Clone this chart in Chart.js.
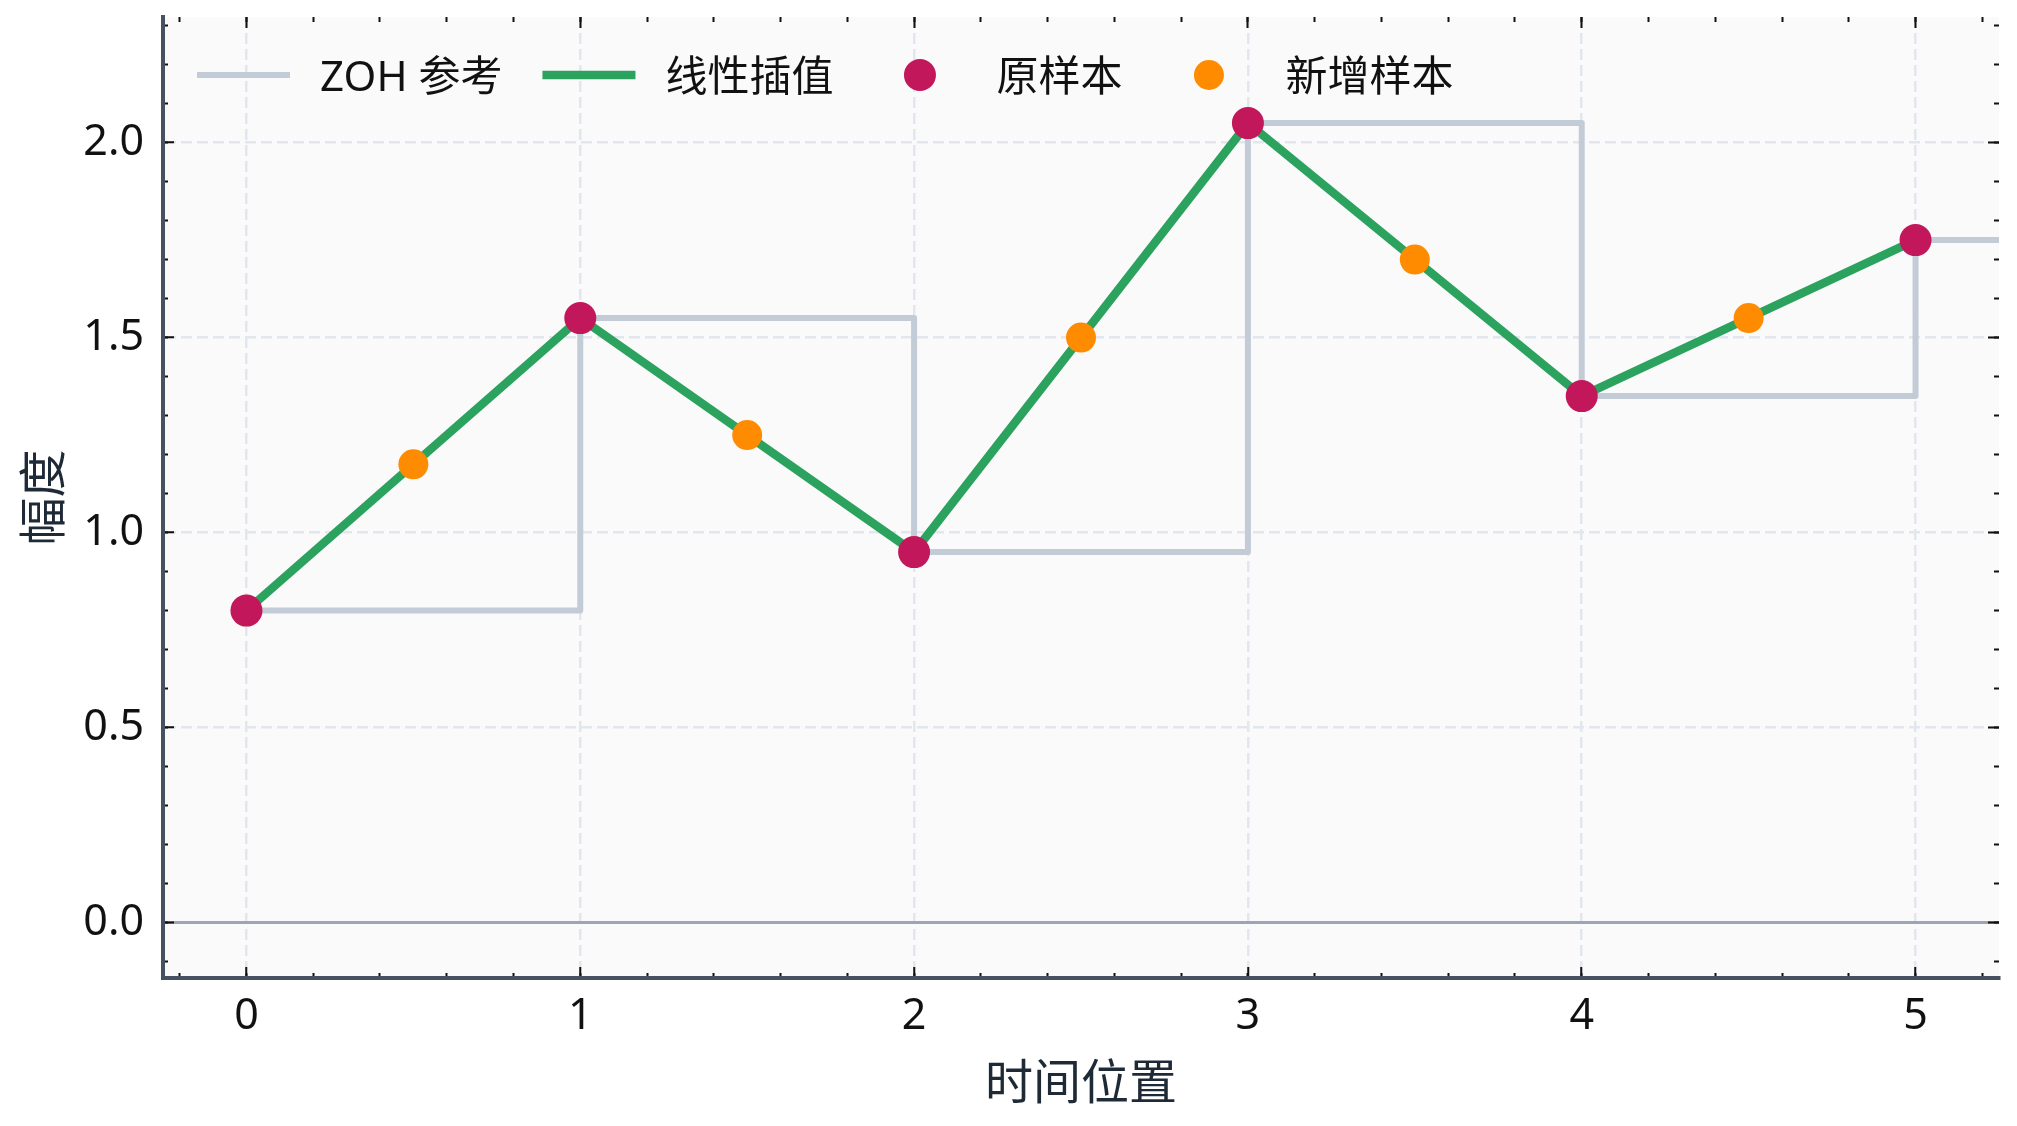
<!DOCTYPE html>
<html lang="zh">
<head>
<meta charset="utf-8">
<title>ZOH 参考与线性插值</title>
<script src="https://cdn.jsdelivr.net/npm/chart.js@4.4.1/dist/chart.umd.min.js"></script>
<style>
  html, body { margin: 0; padding: 0; background: #fff; }
  canvas { display: block; }
</style>
</head>
<body>
<canvas id="main-chart" width="2017" height="1126"></canvas>
<script>
// ── Data ──────────────────────────────────────────────────────────
const origX = [0, 1, 2, 3, 4, 5];
const origY = [0.8, 1.55, 0.95, 2.05, 1.35, 1.75];
const newX  = [0.5, 1.5, 2.5, 3.5, 4.5];
const newY  = [1.175, 1.25, 1.5, 1.7, 1.55];
const zohHoldX = 6;           // last sample held on past the right edge

const seriesLabels = ['ZOH 参考', '线性插值', '原样本', '新增样本'];
const xTitle = '时间位置';
const yTitle = '幅度';

const xRange = [-0.25, 5.25];
const yRange = [-0.142, 2.322];
const xMajor = 1,   xMinor = 0.2;
const yMajor = 0.5, yMinor = 0.1;

// ── Styling ───────────────────────────────────────────────────────
const FONT = '"Noto Sans", "Noto Sans CJK SC", sans-serif';
const clr = {
  zoh:    '#c3cbd7',
  lin:    '#2ca25f',
  orig:   '#c2185b',
  added:  '#ff8c00',
  plotBg: '#fafafa',
  grid:   '#e2e6ee',
  zero:   '#9ba5b4',
  spine:  '#465161',
  tick:   '#111',
  text:   '#111',
  title:  '#1f2a37',
};

const pts = (xs, ys) => xs.map((x, i) => ({ x, y: ys[i] }));

// plot area background
const plotBg = {
  id: 'plotBg',
  beforeDraw(chart) {
    const { ctx, chartArea: a } = chart;
    ctx.save();
    ctx.fillStyle = clr.plotBg;
    ctx.fillRect(a.left, a.top, a.right - a.left, a.bottom - a.top);
    ctx.restore();
  },
};

// legend drawn inside the plot, top-left, no frame
const innerLegend = {
  id: 'innerLegend',
  afterDraw(chart) {
    const { ctx, chartArea } = chart;
    const sample = 93, gapText = 30, gapItem = 40;
    let x = chartArea.left + 34;
    const y = chartArea.top + 58;
    ctx.save();
    ctx.font = '42px ' + FONT;
    ctx.textBaseline = 'middle';
    ctx.textAlign = 'left';
    chart.data.datasets.forEach(ds => {
      if (ds.showLine) {
        ctx.strokeStyle = ds.borderColor;
        ctx.lineWidth = ds.borderWidth;
        ctx.beginPath();
        ctx.moveTo(x, y);
        ctx.lineTo(x + sample, y);
        ctx.stroke();
      } else {
        ctx.fillStyle = ds.backgroundColor;
        ctx.beginPath();
        ctx.arc(x + sample / 2, y, ds.pointRadius, 0, Math.PI * 2);
        ctx.fill();
      }
      ctx.fillStyle = clr.text;
      ctx.fillText(ds.label, x + sample + gapText, y + 4);
      x += sample + gapText + ctx.measureText(ds.label).width + gapItem;
    });
    ctx.restore();
  },
};

// no label overhang padding: the plot box is fixed by layout padding
function noOverhang(s) {
  s.paddingTop = 0; s.paddingBottom = 0;
  s.paddingLeft = 0; s.paddingRight = 0;
}

// tick-only axes (minor ticks + mirrored ticks on top/right), zero size
function tickAxis(axis, position, step, len) {
  const isX = axis === 'x';
  return {
    type: 'linear', axis, position, weight: 0,
    min: isX ? xRange[0] : yRange[0],
    max: isX ? xRange[1] : yRange[1],
    ticks: { display: false, stepSize: step, includeBounds: false },
    grid: { drawOnChartArea: false, drawTicks: true, tickLength: -len, tickColor: clr.tick, tickWidth: 2 },
    border: { display: false },
    afterFit: s => { if (isX) s.height = 0; else s.width = 0; noOverhang(s); },
  };
}

const isZero = ctx => ctx.tick && Math.abs(ctx.tick.value) < 1e-9;

new Chart(document.getElementById('main-chart'), {
  type: 'scatter',
  data: {
    datasets: [
      {
        label: seriesLabels[0],
        data: pts(origX.concat([zohHoldX]), origY.concat([origY[origY.length - 1]])),
        showLine: true,
        stepped: 'before',
        borderColor: clr.zoh,
        borderWidth: 6,
        borderJoinStyle: 'round',
        pointRadius: 0,
        order: 4,
      },
      {
        label: seriesLabels[1],
        data: pts(origX, origY),
        showLine: true,
        borderColor: clr.lin,
        borderWidth: 8.5,
        pointRadius: 0,
        tension: 0,
        order: 3,
      },
      {
        label: seriesLabels[2],
        data: pts(origX, origY),
        showLine: false,
        backgroundColor: clr.orig,
        pointRadius: 16,
        pointBorderWidth: 0,
        order: 2,
      },
      {
        label: seriesLabels[3],
        data: pts(newX, newY),
        showLine: false,
        backgroundColor: clr.added,
        pointRadius: 15,
        pointBorderWidth: 0,
        order: 1,
      },
    ],
  },
  options: {
    responsive: false,
    devicePixelRatio: 1,
    animation: false,
    layout: { padding: { left: 0, right: 18, top: 17, bottom: 0 } },
    plugins: { legend: { display: false }, tooltip: { enabled: false } },
    scales: {
      x: {
        type: 'linear', position: 'bottom', weight: 1,
        min: xRange[0], max: xRange[1],
        ticks: {
          stepSize: xMajor, includeBounds: false, padding: 24,
          color: clr.text, font: { family: FONT, size: 43 },
          callback: v => String(v),
        },
        grid: { color: clr.grid, lineWidth: 2.5, tickLength: -11, tickColor: clr.tick, tickWidth: 2 },
        border: { display: true, color: clr.spine, width: 4, dash: [11, 5] },
        title: {
          display: true, text: xTitle, color: clr.title,
          font: { family: FONT, size: 48 }, padding: { top: 0, bottom: 12 },
        },
        afterFit: s => { s.height = 148; noOverhang(s); },
      },
      y: {
        type: 'linear', position: 'left', weight: 1,
        min: yRange[0], max: yRange[1],
        ticks: {
          stepSize: yMajor, includeBounds: false, padding: 30,
          color: clr.text, font: { family: FONT, size: 43 },
          callback: v => v.toFixed(1),
        },
        grid: {
          color: ctx => isZero(ctx) ? clr.zero : clr.grid,
          lineWidth: ctx => isZero(ctx) ? 3 : 2.5,
          tickLength: -11, tickColor: clr.tick, tickWidth: 2,
        },
        border: { display: true, color: clr.spine, width: 4, dash: ctx => isZero(ctx) ? [] : [11, 5] },
        title: {
          display: true, text: yTitle, color: clr.title,
          font: { family: FONT, size: 48 }, padding: { top: 18, bottom: 0 },
        },
        afterFit: s => { s.width = 163; noOverhang(s); },
      },
      xMinorB: tickAxis('x', 'bottom', xMinor, 5),
      xTop:    tickAxis('x', 'top', xMajor, 11),
      xMinorT: tickAxis('x', 'top', xMinor, 5),
      yMinorL: tickAxis('y', 'left', yMinor, 5),
      yRight:  tickAxis('y', 'right', yMajor, 11),
      yMinorR: tickAxis('y', 'right', yMinor, 5),
    },
  },
  plugins: [plotBg, innerLegend],
});
</script>
</body>
</html>
